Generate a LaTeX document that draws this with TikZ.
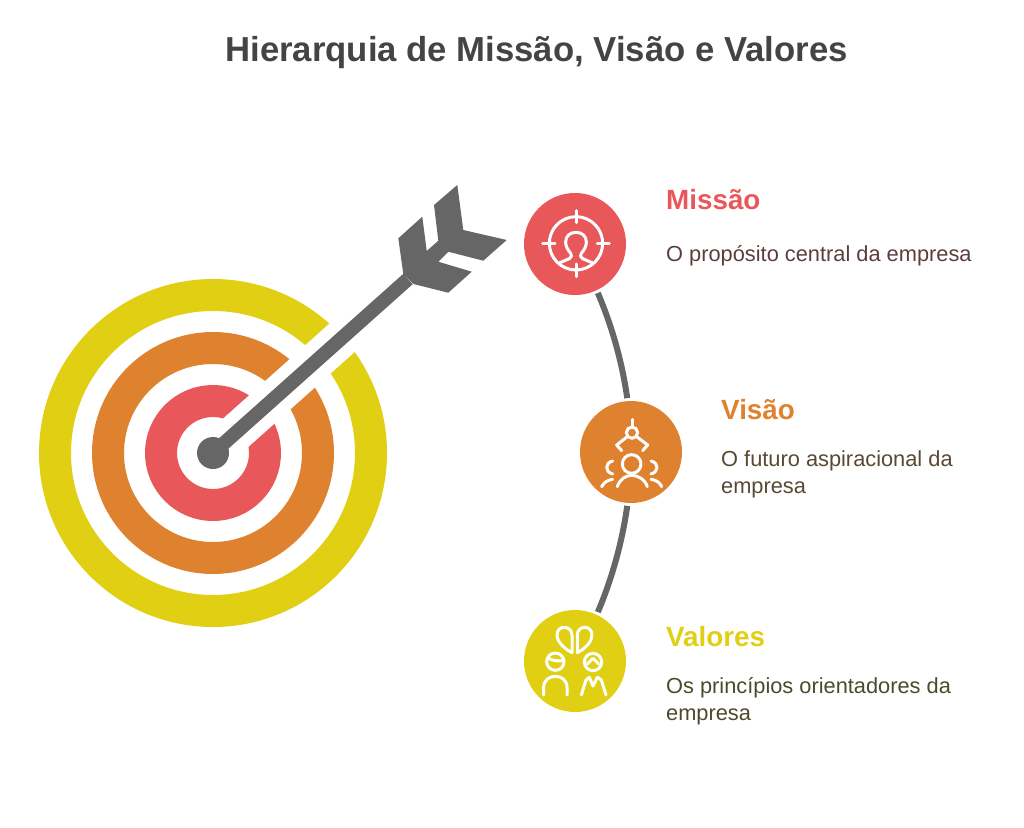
\documentclass[tikz,border=0pt]{standalone}
\usepackage{fontspec}
\setmainfont{Liberation Sans}
\usetikzlibrary{positioning}
\definecolor{ringred}{HTML}{E8585A}
\definecolor{ringorange}{HTML}{DF8230}
\definecolor{ringyellow}{HTML}{E0CF13}
\definecolor{arrowgray}{HTML}{666666}
\definecolor{titlegray}{HTML}{444444}
\definecolor{descred}{HTML}{5C3D3D}
\definecolor{descorange}{HTML}{594832}
\definecolor{descyellow}{HTML}{4D4A2C}
\begin{document}
\begin{tikzpicture}[x=1pt, y=-1pt,
    badge/.style={circle, minimum size=102pt, inner sep=0pt, outer sep=3pt},
    heading/.style={inner sep=0pt, anchor=west, text height=20pt, text depth=6pt, font=\fontsize{27.8}{27.8}\selectfont\bfseries},
    desc/.style={inner sep=0pt, align=left, font=\fontsize{21.8}{27}\selectfont},
    spine/.style={draw=arrowgray, line width=6pt},
    icon/.style={draw=white, line width=3pt, line cap=round, line join=round}]
    \useasboundingbox (0,0) rectangle (1024,827);

    \node [font=\fontsize{34.7}{34.7}\selectfont\bfseries, text=titlegray, inner sep=0pt] (title) at (536.5,53) {Hierarquia de Missão, Visão e Valores};

    \coordinate (bull) at (213,453);
    \coordinate (gapend) at (362,320);
    \coordinate (nock) at (408,279);
    \foreach \rad/\col in {158/ringyellow, 105/ringorange, 52/ringred}
        \draw [\col, line width=32pt] (bull) circle (\rad);
    \draw [white, line width=38pt] (bull) -- (gapend);

    \node [circle, fill=arrowgray, minimum size=32pt, inner sep=0pt] (hub) at (bull) {};
    \draw [arrowgray, line width=14pt] (hub.center) -- (nock);
    \fill [arrowgray] (457.3,185) -- (463.3,230) -- (506.7,240) -- (483.3,260.7) -- (448.3,251.7) -- (438.3,261.7) -- (471.7,271.7) -- (448.3,292.7) -- (413.3,284) -- (403.3,274) -- (398.3,238.3) -- (422.3,216.7) -- (426.7,251) -- (438.3,240.7) -- (434,205) -- cycle;

    \node [badge, fill=ringred] (missao) at (575,244) {};
    \node [badge, fill=ringorange] (visao) at (631,452) {};
    \node [badge, fill=ringyellow] (valores) at (575,661) {};

    \path [spine]
    (missao.-65) edge [bend left=7.5, looseness=0.85] (visao.94)
    (visao.-94) edge [bend left=7.5, looseness=0.85] (valores.65);

    \node [heading, text=ringred] (missaoT) at (666,202) {Missão};
    \node [desc, text=descred, below right=43pt and 0pt of missaoT.west] (missaoD) {O propósito central da empresa};
    \node [heading, text=ringorange] (visaoT) at (721,412) {Visão};
    \node [desc, text=descorange, below right=38pt and 0pt of visaoT.west] (visaoD) {O futuro aspiracional da\\empresa};
    \node [heading, text=ringyellow] (valoresT) at (666,639) {Valores};
    \node [desc, text=descyellow, below right=38pt and 0pt of valoresT.west] (valoresD) {Os princípios orientadores da\\empresa};

    \begin{scope}[shift={(510,180)}, x=0.3333pt, y=-0.3333pt]
        \draw [icon] (198,190) circle (80);
        \draw [icon] (198,92) -- (198,128) (98,190) -- (135,190) (262,190) -- (298,190) (198,252) -- (198,290);
        \draw [icon] (150,248) -- (178,236) .. controls (186,232) and (186,226) .. (182,220) .. controls (172,208) and (167,198) .. (167,186) .. controls (167,168) and (180,157) .. (198,157) .. controls (216,157) and (229,168) .. (229,186) .. controls (229,198) and (224,208) .. (214,220) .. controls (210,226) and (210,232) .. (218,236) -- (246,248);
    \end{scope}

    \begin{scope}[shift={(570,390)}, x=0.3333pt, y=-0.3333pt]
        \draw [icon] (186,88) -- (186,111);
        \draw [icon] (186,128) circle (17);
        \draw [icon] (172,140) -- (140,165) -- (155,182);
        \draw [icon] (200,140) -- (233,165) -- (218,182);
        \draw [icon] (185,222) circle (28);
        \draw [icon] (142,290) .. controls (150,265) and (170,256) .. (185,256) .. controls (200,256) and (224,265) .. (232,290);
        \draw [icon] (128,213) .. controls (104,218) and (104,246) .. (128,252);
        \draw [icon] (243,213) .. controls (267,218) and (267,246) .. (243,252);
        \draw [icon] (95,290) .. controls (102,276) and (114,270) .. (128,268);
        \draw [icon] (243,268) .. controls (257,270) and (269,276) .. (275,290);
    \end{scope}

    \begin{scope}[shift={(512,600)}, x=0.3333pt, y=-0.3333pt]
        \draw [icon] (180,158) .. controls (155,145) and (135,125) .. (135,105) .. controls (135,90) and (145,82) .. (157,82) .. controls (170,82) and (180,92) .. (180,105) -- cycle;
        \draw [icon] (196,158) .. controls (221,145) and (240,125) .. (240,105) .. controls (240,90) and (230,82) .. (218,82) .. controls (205,82) and (196,92) .. (196,105) -- cycle;
        \draw [icon] (130,185) circle (26);
        \draw [icon] (109,175) .. controls (122,182) and (138,184) .. (150,182);
        \draw [icon] (243,186) circle (26);
        \draw [icon] (226,192) -- (243,175) -- (260,192);
        \draw [icon] (95,285) -- (95,262) .. controls (95,218) and (165,218) .. (165,262) -- (165,285);
        \draw [icon] (208,285) -- (222,240) -- (232,232) -- (243,258) -- (256,232) -- (268,240) -- (282,285);
    \end{scope}
\end{tikzpicture}
\end{document}
